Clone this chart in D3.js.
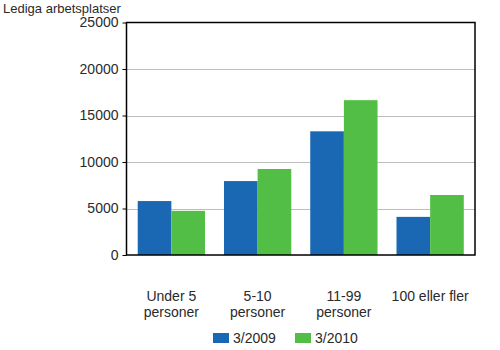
<!DOCTYPE html>
<html>
<head>
<meta charset="utf-8">
<script src="https://cdn.jsdelivr.net/npm/d3@7"></script>
<style>
  html, body { margin: 0; padding: 0; background: #fff; }
  svg { display: block; font-family: "Liberation Sans", Arial, sans-serif; }
</style>
</head>
<body>
<svg id="chart" width="500" height="350"></svg>
<script>
// Lediga arbetsplatser efter arbetsställets storlek
const categories = [["Under 5", "personer"], ["5-10", "personer"], ["11-99", "personer"], ["100 eller fler"]];
const seriesNames = ["3/2009", "3/2010"];
const values2009 = [5800, 7950, 13300, 4100];
const values2010 = [4750, 9250, 16650, 6450];
const yTicks = [0, 5000, 10000, 15000, 20000, 25000];
const colors = ["#1a68b3", "#53be45"];

const svg = d3.select("#chart");
const plotLeft = 126.5, plotRight = 475, plotTop = 22.5, plotBottom = 255;

const catKeys = categories.map(c => c.join(" "));
const x = d3.scaleBand().domain(catKeys).range([plotLeft, plotRight]).paddingInner(0.22).paddingOuter(0.13);
const xs = d3.scaleBand().domain(seriesNames).range([0, x.bandwidth()]).padding(0);
const y = d3.scaleLinear().domain([0, 25000]).range([plotBottom, plotTop]);

// horizontal gridlines
svg.append("g").selectAll("line").data(yTicks.slice(1, -1)).join("line")
  .attr("x1", plotLeft).attr("x2", plotRight)
  .attr("y1", d => Math.round(y(d)) + 0.5).attr("y2", d => Math.round(y(d)) + 0.5)
  .attr("stroke", "#bdbdbd").attr("stroke-width", 1);

// bars
const rows = catKeys.map((k, i) => ({ key: k, vals: [values2009[i], values2010[i]] }));
const groups = svg.append("g").selectAll("g").data(rows).join("g")
  .attr("transform", d => `translate(${x(d.key)},0)`);
groups.selectAll("rect").data(d => d.vals.map((v, j) => ({ v, name: seriesNames[j], j }))).join("rect")
  .attr("x", d => xs(d.name))
  .attr("width", xs.bandwidth())
  .attr("y", d => y(d.v))
  .attr("height", d => plotBottom - y(d.v))
  .attr("fill", d => colors[d.j]);

// frame
svg.append("rect")
  .attr("x", plotLeft).attr("y", plotTop)
  .attr("width", plotRight - plotLeft).attr("height", plotBottom - plotTop)
  .attr("fill", "none").attr("stroke", "#000").attr("stroke-width", 1.5);

// y axis
const yAxis = svg.append("g").attr("transform", `translate(${plotLeft},0)`)
  .call(d3.axisLeft(y).tickValues(yTicks).tickSize(4).tickPadding(4).tickFormat(d3.format("d")));
yAxis.select(".domain").remove();
yAxis.selectAll("line").attr("stroke", "#000");
yAxis.selectAll("text").attr("font-size", 14).attr("fill", "#2a2a2a")
  .attr("font-family", "'Liberation Sans', Arial, sans-serif");

// axis title
svg.append("text").attr("x", 3).attr("y", 13).attr("font-size", 13).attr("fill", "#2a2a2a")
  .text("Lediga arbetsplatser");

// category labels
const catLabels = svg.append("g").selectAll("text").data(categories).join("text")
  .attr("x", (d, i) => x(catKeys[i]) + x.bandwidth() / 2)
  .attr("y", 301)
  .attr("text-anchor", "middle").attr("font-size", 14).attr("fill", "#2a2a2a");
catLabels.selectAll("tspan").data(d => d).join("tspan")
  .attr("x", function () { return d3.select(this.parentNode).attr("x"); })
  .attr("dy", (d, i) => i === 0 ? 0 : 16)
  .text(d => d);

// legend
const legendX = [213, 295];
const legend = svg.append("g").selectAll("g").data(seriesNames).join("g")
  .attr("transform", (d, i) => `translate(${legendX[i]},333)`);
legend.append("rect").attr("width", 16).attr("height", 10).attr("fill", (d, i) => colors[i]);
legend.append("text").attr("x", 20).attr("y", 10).attr("font-size", 14).attr("fill", "#2a2a2a").text(d => d);
</script>
</body>
</html>
